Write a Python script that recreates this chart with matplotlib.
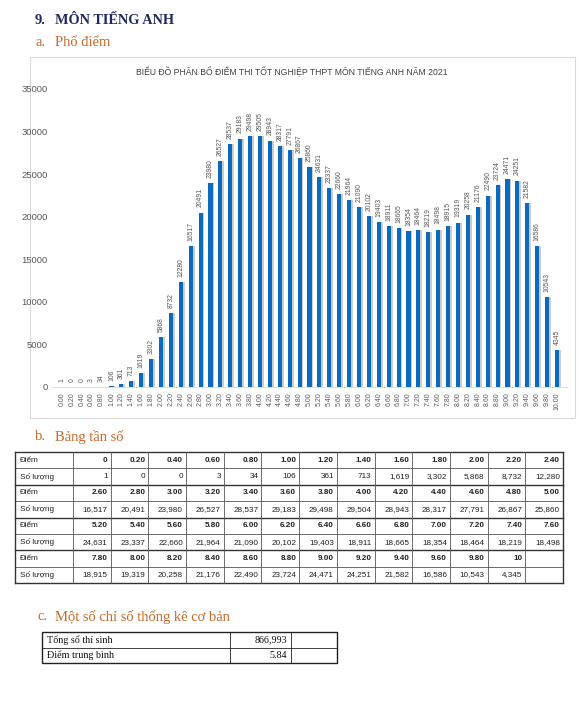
import numpy as np
import matplotlib.pyplot as plt
from matplotlib.patches import Rectangle

W, H = 579, 718

# Score categories and number of candidates
score_labels = ["0.00", "0.20", "0.40", "0.60", "0.80", "1.00", "1.20", "1.40", "1.60", "1.80",
                "2.00", "2.20", "2.40", "2.60", "2.80", "3.00", "3.20", "3.40", "3.60", "3.80",
                "4.00", "4.20", "4.40", "4.60", "4.80", "5.00", "5.20", "5.40", "5.60", "5.80",
                "6.00", "6.20", "6.40", "6.60", "6.80", "7.00", "7.20", "7.40", "7.60", "7.80",
                "8.00", "8.20", "8.40", "8.60", "8.80", "9.00", "9.20", "9.40", "9.60", "9.80",
                "10.00"]
chart_counts = [1, 0, 0, 3, 34, 106, 361, 713, 1619, 3302,
                5868, 8732, 12280, 16517, 20491, 23980, 26527, 28537, 29183, 29498,
                29505, 28943, 28317, 27791, 26867, 25860, 24631, 23337, 22660, 21964,
                21090, 20102, 19403, 18911, 18665, 18354, 18464, 18219, 18498, 18915,
                19319, 20258, 21176, 22490, 23724, 24471, 24251, 21582, 16586, 10543,
                4345]
# values as printed in the frequency table (4.00 differs from the chart label)
table_counts = chart_counts[:20] + [29504] + chart_counts[21:]
table_scores = ["0"] + score_labels[1:50] + ["10"]

total_candidates = "866,993"
mean_score = "5.84"

chart_title = "BIỂU ĐỒ PHÂN BỐ ĐIỂM THI TỐT NGHIỆP THPT MÔN TIẾNG ANH NĂM 2021"

serif = "Liberation Serif"
sans = "Liberation Sans"
navy = "#1f2a5c"
orange = "#c46a2c"
gray = "#595959"
blue = "#0a6abf"

fig = plt.figure(figsize=(W / 100, H / 100), dpi=100)
page = fig.add_axes([0, 0, 1, 1])
page.set_xlim(0, W)
page.set_ylim(H, 0)
page.axis("off")

# headings
page.text(35, 20, "9.", family=serif, fontsize=10.5, weight="bold", color=navy, va="center")
page.text(55, 20, "MÔN TIẾNG ANH", family=serif, fontsize=10.3, weight="bold", color=navy, va="center")
page.text(35, 43, "a.", family=serif, fontsize=10.5, color=orange, va="center")
page.text(55, 43, "Phổ điểm", family=serif, fontsize=10.5, color=orange, va="center")

# chart frame
page.add_patch(Rectangle((30, 57), 545, 361, fill=False, ec="#d9d9d9", lw=0.8))
page.text(292, 72, chart_title, family=sans, fontsize=6.2, color="#404040", ha="center", va="center")

# bar chart
ax = fig.add_axes([52.1 / W, (H - 387) / H, 514.8 / W, 298 / H])
x = np.arange(len(chart_counts))
ax.bar(x + 0.18, chart_counts, width=0.42, color="#cccccc", zorder=2)
ax.bar(x, chart_counts, width=0.42, color=blue, zorder=3)
for i, v in enumerate(chart_counts):
    ax.text(i, v + 600, str(v), rotation=90, ha="center", va="bottom",
            fontsize=4.9, color=gray, family=sans)
ax.set_xlim(-1, 51)
ax.set_ylim(0, 35000)
ax.set_yticks(range(0, 35001, 5000))
ax.set_yticklabels([str(t) for t in range(0, 35001, 5000)], family=sans, fontsize=6.8, color=gray)
ax.set_xticks(x)
ax.set_xticklabels(score_labels, rotation=90, family=sans, fontsize=5, color=gray)
ax.tick_params(length=0, axis="y", pad=3)
ax.tick_params(length=0, axis="x", pad=4)
for s in ["top", "right", "left"]:
    ax.spines[s].set_visible(False)
ax.spines["bottom"].set_color("#d9d9d9")
ax.spines["bottom"].set_linewidth(0.6)
ax.patch.set_alpha(0)

# frequency table
page.text(35, 437, "b.", family=serif, fontsize=10.5, color=orange, va="center")
page.text(55, 437, "Bảng tần số", family=serif, fontsize=10.5, color=orange, va="center")

tx0, tx1, tcol = 15, 563, 73
ty0, ty1 = 452, 583
ncol, nrow = 13, 8
cw = (tx1 - tcol) / ncol
rh = (ty1 - ty0) / nrow
for r in range(nrow):
    y = ty0 + r * rh
    lw = 1.0 if r % 2 == 0 else 0.5
    page.plot([tx0, tx1], [y, y], color="#333333", lw=lw)
    block = r // 2
    is_score = r % 2 == 0
    label = "Điểm" if is_score else "Số lượng"
    page.text(20, y + rh / 2, label, family=sans, fontsize=5.9, color="#222222", va="center")
    for c in range(ncol):
        k = block * ncol + c
        if k >= len(table_counts):
            continue
        if is_score:
            txt = table_scores[k]
            wt = "bold"
        else:
            txt = f"{table_counts[k]:,}"
            wt = "normal"
        page.text(tcol + (c + 1) * cw - 3, y + rh / 2, txt, family=sans, fontsize=5.9,
                  weight=wt, color="#222222", ha="right", va="center")
page.plot([tx0, tx1], [ty1, ty1], color="#333333", lw=1.0)
page.plot([tx0, tx0], [ty0, ty1], color="#333333", lw=1.0)
page.plot([tx1, tx1], [ty0, ty1], color="#333333", lw=1.0)
for c in range(ncol):
    xx = tcol + c * cw
    page.plot([xx, xx], [ty0, ty1], color="#555555", lw=0.6)

# basic statistics
page.text(38, 617, "c.", family=serif, fontsize=10.5, color=orange, va="center")
page.text(55, 617, "Một số chỉ số thống kê cơ bản", family=serif, fontsize=10.5, color=orange, va="center")

sx0, sx1, sx2, sx3 = 42, 230, 291, 337
sy0, sy1, sy2 = 632, 647.5, 663
page.add_patch(Rectangle((sx0, sy0), sx3 - sx0, sy2 - sy0, fill=False, ec="#222222", lw=1.0))
page.plot([sx0, sx3], [sy1, sy1], color="#222222", lw=0.6)
for xx in (sx1, sx2):
    page.plot([xx, xx], [sy0, sy2], color="#222222", lw=0.6)
stats = [("Tổng số thí sinh", total_candidates), ("Điểm trung bình", mean_score)]
for j, (name, val) in enumerate(stats):
    yc = sy0 + (j + 0.5) * (sy1 - sy0)
    page.text(sx0 + 5, yc, name, family=serif, fontsize=7.3, color="#111111", va="center")
    page.text(sx2 - 4, yc, val, family=serif, fontsize=7.3, color="#111111", va="center", ha="right")

fig.savefig("out.png", dpi=100)
